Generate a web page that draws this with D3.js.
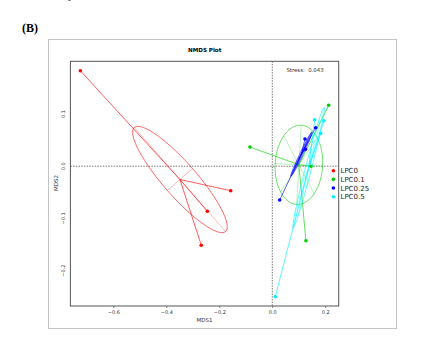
<!DOCTYPE html>
<html><head><meta charset="utf-8">
<script src="https://cdn.jsdelivr.net/npm/d3@7"></script>
<style>html,body{margin:0;padding:0;background:#fff}svg{display:block}</style>
</head><body>
<svg id="c" width="447" height="343"></svg>
<script>
// ---- data ----
const groups = ["LPC0", "LPC0.1", "LPC0.25", "LPC0.5"];
const colors = ["#ff0000", "#00cd00", "#0000ff", "#00f0ff"];
const mds1_LPC0   = [-0.7245, -0.157, -0.245, -0.268];
const mds2_LPC0   = [ 0.183, -0.0469, -0.0864, -0.1515];
const mds1_LPC01  = [ 0.2128, -0.0842, 0.146, 0.127];
const mds2_LPC01  = [ 0.1167, 0.0368, 0.0, -0.1427];
const mds1_LPC025 = [ 0.1638, 0.1234, 0.1253, 0.0279];
const mds2_LPC025 = [ 0.0738, 0.0521, 0.0324, -0.0648];
const mds1_LPC05  = [ 0.160, 0.195, 0.1826, 0.0113];
const mds2_LPC05  = [ 0.0891, 0.0872, 0.063, -0.250];
const xTicks = [-0.6, -0.4, -0.2, 0.0, 0.2];
const yTicks = [0.1, 0.0, -0.1, -0.2];
const stressLabel = "Stress:  0.043";
const ellipseScale = 0.7;
const spokeCounts = [4, 8, 28, 10];

const series = [
  [mds1_LPC0, mds2_LPC0], [mds1_LPC01, mds2_LPC01],
  [mds1_LPC025, mds2_LPC025], [mds1_LPC05, mds2_LPC05]
];

const svg = d3.select("#c");
const font = "DejaVu Sans, Verdana, sans-serif";

// outer frame
svg.append("rect").attr("x", 48.5).attr("y", 39.5).attr("width", 348).attr("height", 289)
  .attr("fill", "none").attr("stroke", "#c4c4c4").attr("stroke-width", 1);

svg.append("text").attr("x", 22).attr("y", 31.5).text("(B)")
  .attr("font-family", "Liberation Serif, Times New Roman, serif").attr("font-weight", "bold")
  .attr("font-size", 12).attr("fill", "#000");

const L = 70.4, R = 338.7, T = 61.3, B = 306;
const x = d3.scaleLinear().domain([-0.762, 0.2506]).range([L, R]);
const y = d3.scaleLinear().domain([-0.2678, 0.201]).range([B, T]);

// title
svg.append("text").attr("x", 204.7).attr("y", 52).attr("text-anchor", "middle")
  .attr("font-family", font).attr("font-weight", "bold").attr("font-size", 5.6)
  .attr("fill", "#000").text("NMDS Plot");

// zero lines
svg.append("line").attr("x1", x(0)).attr("x2", x(0)).attr("y1", T).attr("y2", B)
  .attr("stroke", "#444").attr("stroke-width", 0.7).attr("stroke-dasharray", "1.5,1.2");
svg.append("line").attr("x1", L).attr("x2", R).attr("y1", y(0)).attr("y2", y(0))
  .attr("stroke", "#444").attr("stroke-width", 0.7).attr("stroke-dasharray", "1.5,1.2");

// ellipses + spiders
series.forEach((s, gi) => {
  const px = s[0].map(v => x(v)), py = s[1].map(v => y(v));
  const n = px.length;
  const cx = d3.mean(px), cy = d3.mean(py);
  let vxx = 0, vyy = 0, vxy = 0;
  for (let i = 0; i < n; i++) {
    vxx += (px[i]-cx)**2; vyy += (py[i]-cy)**2; vxy += (px[i]-cx)*(py[i]-cy);
  }
  vxx /= (n-1); vyy /= (n-1); vxy /= (n-1);
  const tr = vxx + vyy, det = vxx*vyy - vxy*vxy;
  const disc = Math.sqrt(Math.max(0, tr*tr/4 - det));
  const l1 = tr/2 + disc, l2 = Math.max(0, tr/2 - disc);
  let ang = Math.abs(vxy) < 1e-9 ? (vxx >= vyy ? 0 : Math.PI/2) : Math.atan2(l1 - vxx, vxy);
  const a = Math.sqrt(l1)*ellipseScale, b = Math.sqrt(l2)*ellipseScale;
  const ca = Math.cos(ang), sa = Math.sin(ang);
  const ept = t => [cx + a*Math.cos(t)*ca - b*Math.sin(t)*sa, cy + a*Math.cos(t)*sa + b*Math.sin(t)*ca];
  const pts = d3.range(0, 361, 3).map(d => ept(d*Math.PI/180));
  const g = svg.append("g");
  // faint spokes
  const k = spokeCounts[gi];
  for (let j = 0; j < k; j++) {
    const e = ept(j*2*Math.PI/k);
    g.append("line").attr("x1", cx).attr("y1", cy).attr("x2", e[0]).attr("y2", e[1])
      .attr("stroke", colors[gi]).attr("stroke-width", 0.6).attr("stroke-opacity", 0.45);
  }
  g.append("path").attr("d", d3.line()(pts)).attr("fill", "none")
    .attr("stroke", colors[gi]).attr("stroke-width", 0.7).attr("stroke-opacity", 0.85);
  // spider
  for (let i = 0; i < n; i++) {
    g.append("line").attr("x1", cx).attr("y1", cy).attr("x2", px[i]).attr("y2", py[i])
      .attr("stroke", colors[gi]).attr("stroke-width", 0.75).attr("stroke-opacity", 0.85);
  }
});
// points
series.forEach((s, gi) => {
  svg.append("g").selectAll("circle").data(s[0]).join("circle")
    .attr("cx", d => x(d)).attr("cy", (d, i) => y(s[1][i])).attr("r", 1.8)
    .attr("fill", colors[gi]);
});

// panel border
svg.append("rect").attr("x", L).attr("y", T).attr("width", R-L).attr("height", B-T)
  .attr("fill", "none").attr("stroke", "#555").attr("stroke-width", 1);

// axes
const xa = svg.append("g").attr("transform", `translate(0,${B})`)
  .call(d3.axisBottom(x).tickValues(xTicks).tickSize(2).tickPadding(2).tickFormat(d3.format(".1f")));
const ya = svg.append("g").attr("transform", `translate(${L},0)`)
  .call(d3.axisLeft(y).tickValues(yTicks).tickSize(2).tickPadding(2).tickFormat(d3.format(".1f")));
[xa, ya].forEach(a => {
  a.select(".domain").remove();
  a.selectAll("line").attr("stroke", "#555").attr("stroke-width", 0.7);
  a.selectAll("text").attr("font-family", font).attr("font-size", 5).attr("fill", "#333");
});
ya.selectAll("text").attr("text-anchor", "middle").attr("dy", null)
  .attr("x", null).attr("transform", d => `translate(-5,${y(d)}) rotate(-90)`)
  .attr("y", 0);
ya.selectAll(".tick").attr("transform", null);

svg.append("text").attr("x", 204.5).attr("y", 322).attr("text-anchor", "middle")
  .attr("font-family", font).attr("font-size", 5.5).attr("fill", "#333").text("MDS1");
svg.append("text").attr("transform", `translate(58,183) rotate(-90)`).attr("text-anchor", "middle")
  .attr("font-family", font).attr("font-size", 5.5).attr("fill", "#333").text("MDS2");

// stress
svg.append("text").attr("x", 305).attr("y", 71.8).attr("text-anchor", "middle")
  .attr("font-family", font).attr("font-size", 5.4).attr("fill", "#333")
  .attr("xml:space", "preserve").style("white-space", "pre").text(stressLabel);

// legend
const lg = svg.append("g");
groups.forEach((gname, i) => {
  const yy = 170.7 + i*8.67;
  lg.append("circle").attr("cx", 333.4).attr("cy", yy).attr("r", 1.8).attr("fill", colors[i]);
  lg.append("text").attr("x", 340.5).attr("y", yy + 2.6).attr("font-family", font)
    .attr("font-size", 7).attr("fill", "#222").text(gname);
});
</script>
</body></html>
